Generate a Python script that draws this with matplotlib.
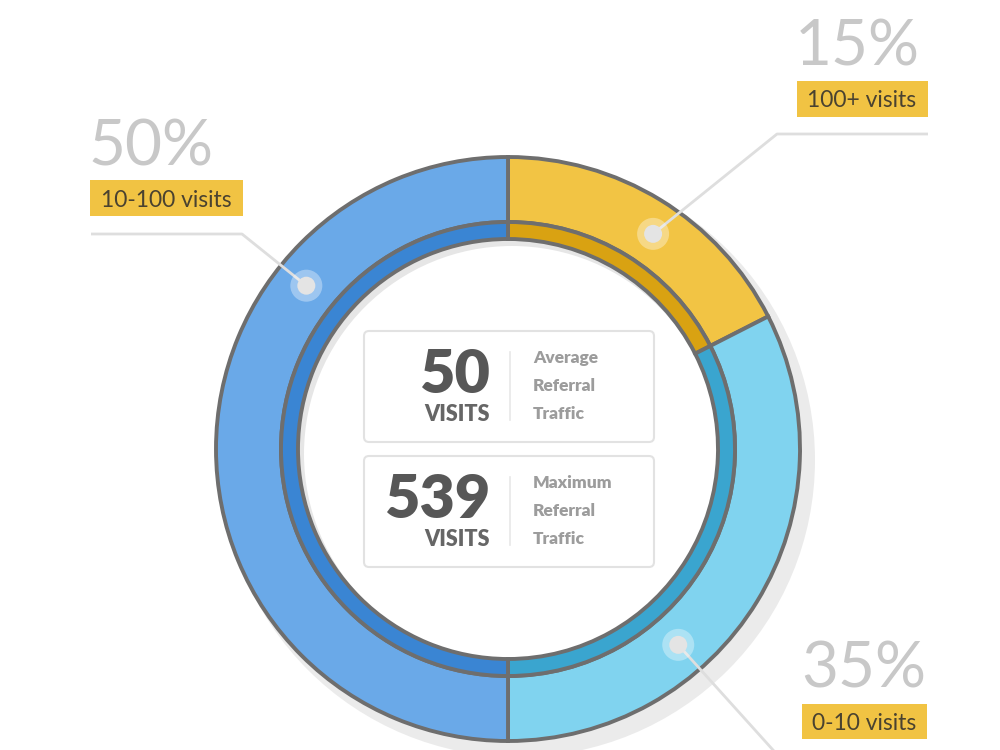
import numpy as np
import matplotlib.pyplot as plt
from matplotlib.patches import Circle, Rectangle, FancyBboxPatch

# данные сегментов (по часовой стрелке от верха)
segment_labels = ['100+ visits', '0-10 visits', '10-100 visits']
segment_pct = [15, 35, 50]
# доли дуг так, как они нарисованы на картинке
arc_share = [17.5, 32.5, 50]
# углы точек-якорей на кольце, градусы
dot_angles = [56, -49, 141]

avg_visits = 50
max_visits = 539
avg_caption = ['Average', 'Referral', 'Traffic']
max_caption = ['Maximum', 'Referral', 'Traffic']

outer_colors = ['#f2c444', '#80d3ef', '#6aa9e8']
inner_colors = ['#d9a212', '#3aa5cf', '#3a85d3']
edge = '#6e6e6e'

plt.rcParams['font.family'] = ['Lato', 'DejaVu Sans']

H = 750


def Y(y):
    # перевод координаты из картинки (сверху вниз) в оси
    return H - y


fig = plt.figure(figsize=(10, 7.5), dpi=100)
ax = fig.add_axes([0, 0, 1, 1])

cx, cy = 508, Y(449)
R_out, R_mid, R_in = 292, 227, 210

# тень кольца
ax.add_patch(Circle((cx + 10, cy - 11), R_out + 5, color='#ebebeb', zorder=1, lw=0))
# внутренняя тень и белый центр
ax.add_patch(Circle((cx, cy), R_in + 2, color='#e6e6e6', zorder=1.5, lw=0))
ax.add_patch(Circle((cx + 4, cy - 5), R_in - 2, color='white', zorder=1.6, lw=0))

# кольца
wedges_out, _ = ax.pie(arc_share, radius=R_out, center=(cx, cy), startangle=90,
                       counterclock=False, colors=outer_colors,
                       wedgeprops=dict(width=R_out - R_mid, edgecolor=edge, linewidth=2.8))
wedges_in, _ = ax.pie(arc_share, radius=R_mid, center=(cx, cy), startangle=90,
                      counterclock=False, colors=inner_colors,
                      wedgeprops=dict(width=R_mid - R_in, edgecolor=edge, linewidth=2.8))
for w in wedges_out + wedges_in:
    w.set_zorder(2)

# подписи: процент, плашка, линия-выноска
label_layout = [
    dict(pct_xy=(795, 65), box=(797, 81, 131, 36), txt_xy=(862, 107),
         line=[(928, 134), (777, 134)]),
    dict(pct_xy=(801, 687), box=(802, 704, 125, 35), txt_xy=(864, 730),
         line=[(773, 750), (790, 768)]),
    dict(pct_xy=(88, 165), box=(90, 180, 153, 36), txt_xy=(166, 207),
         line=[(91, 234), (242, 234)]),
]

r_dot = (R_out + R_mid) / 2
for lab, pct, ang, lay in zip(segment_labels, segment_pct, dot_angles, label_layout):
    ax.text(lay['pct_xy'][0], Y(lay['pct_xy'][1]), f'{pct}%', fontsize=46,
            color='#c8c8c8', ha='left', va='baseline', zorder=5)
    bx, by, bw, bh = lay['box']
    ax.add_patch(Rectangle((bx, Y(by + bh)), bw, bh, color='#f1c343', lw=0, zorder=5))
    ax.text(lay['txt_xy'][0], Y(lay['txt_xy'][1]), lab, fontsize=16.5,
            color='#4a4230', ha='center', va='baseline', zorder=6)

    dx = cx + r_dot * np.cos(np.radians(ang))
    dy = cy + r_dot * np.sin(np.radians(ang))
    pts = [(x, Y(y)) for x, y in lay['line']]
    if ang < 0:
        xs = [dx] + [p[0] for p in pts]
        ys = [dy] + [p[1] for p in pts]
    else:
        xs = [p[0] for p in pts] + [dx]
        ys = [p[1] for p in pts] + [dy]
    ax.plot(xs, ys, color='#dedede', lw=2, zorder=4, solid_capstyle='butt')
    ax.add_patch(Circle((dx, dy), 16, color='white', alpha=0.35, lw=0, zorder=4.5))
    ax.add_patch(Circle((dx, dy), 9, color='#e4e4e4', lw=0, zorder=4.6))

# центральные карточки
cards = [(331, avg_visits, avg_caption), (456, max_visits, max_caption)]
for top, value, caption in cards:
    ax.add_patch(FancyBboxPatch((364, Y(top + 111)), 290, 111,
                                boxstyle='round,pad=0,rounding_size=5',
                                facecolor='white', edgecolor='#e2e2e2', lw=1.5, zorder=5))
    ax.text(490, Y(top + 62), str(value), fontsize=44, fontweight='heavy',
            color='#575757', ha='right', va='baseline', zorder=6)
    ax.text(490, Y(top + 90), 'VISITS', fontsize=15.5, fontweight='heavy',
            color='#666666', ha='right', va='baseline', zorder=6)
    ax.plot([510, 510], [Y(top + 21), Y(top + 89)], color='#e8e8e8', lw=1.2, zorder=6)
    for i, word in enumerate(caption):
        ax.text(533, Y(top + 27 + 28 * i), word, fontsize=12.5, fontweight='heavy',
                color='#9c9c9c', ha='left', va='center', zorder=6)

ax.set_xlim(0, 1000)
ax.set_ylim(0, 750)
ax.set_aspect('equal')
ax.axis('off')

plt.savefig('out.png', dpi=100, facecolor='white')
